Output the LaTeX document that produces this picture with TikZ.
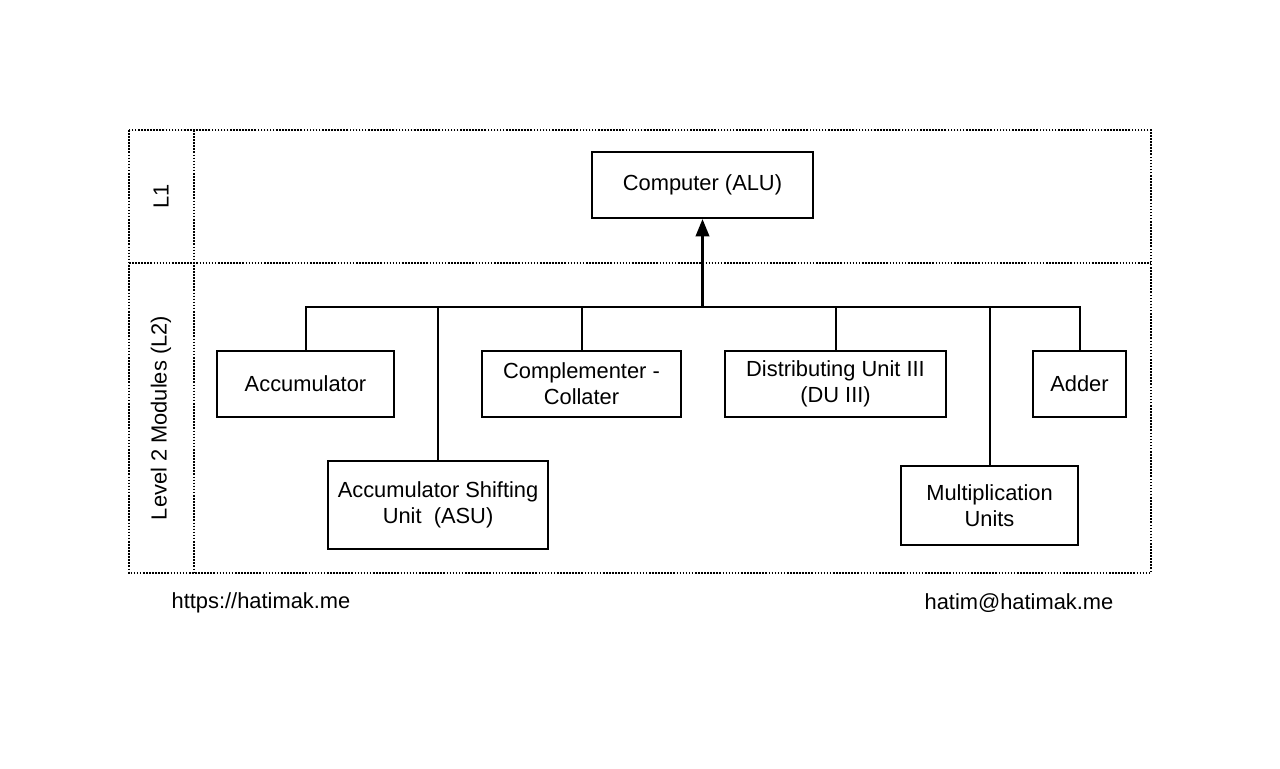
\documentclass[tikz,border=0pt]{standalone}
\usepackage{fontspec}
\setmainfont{Liberation Sans}
\usetikzlibrary{positioning, arrows.meta}

\begin{document}
\begin{tikzpicture}[x=0.75pt, y=-0.75pt, on grid, font=\fontsize{16.4}{19.5}\selectfont,
    module/.style={rectangle, draw=black, line width=1.5pt, align=center, inner sep=0pt, minimum height=49.5pt},
    lane/.style={draw=black, line width=1.2pt, dash pattern=on 1.2pt off 1.1pt},
    link/.style={draw=black, line width=1.5pt}]
      \useasboundingbox (0,0) rectangle (1280,768);

      % swimlanes
      \draw[lane] (129,130) rectangle (1151,573);
      \draw[lane] (194,130) -- (194,573);
      \draw[lane] (129,263) -- (1151,263);
      \node[rotate=90] (l1) at (161,196) {L1};
      \node[rotate=90] (l2) at (161,418) {Level 2 Modules (L2)};

      % modules
      \node[module, minimum width=165.75pt] (alu) at (702.5,185) {Computer (ALU)};
      \node[module, minimum width=132.75pt, below left= 149.25pt and 297.75pt of alu] (acc) {Accumulator};
      \node[module, minimum width=149.25pt, right= 207pt of acc] (comp) {Complementer -\\Collater};
      \node[module, minimum width=165.75pt, right= 190.5pt of comp] (dist) {Distributing Unit III\\(DU III)};
      \node[module, minimum width=69.75pt, right= 183pt of dist] (adder) {Adder};
      \node[module, minimum width=165pt, minimum height=66pt, below right= 90.75pt and 99.4pt of acc] (asu) {Accumulator Shifting\\Unit~ (ASU)};
      \node[module, minimum width=132.75pt, minimum height=59.25pt, below right= 91.1pt and 115.5pt of dist] (mult) {Multiplication\\Units};

      \coordinate[below= 91.5pt of alu] (bus);
      \draw[link] (acc.north) |- (bus);
      \draw[link] (asu.north) |- (bus);
      \draw[link] (comp.north) |- (bus);
      \draw[link] (dist.north) |- (bus);
      \draw[link] (mult.north) |- (bus);
      \draw[link] (adder.north) |- (bus);
      \draw[link, line width=2pt, -{Triangle[length=13pt, width=10pt]}] (bus) -- (alu.south);

      % footer
      \node (site) at (261,603) {https://hatimak.me};
      \node (mail) at (1019,603) {hatim@hatimak.me};
    \end{tikzpicture}
\end{document}
